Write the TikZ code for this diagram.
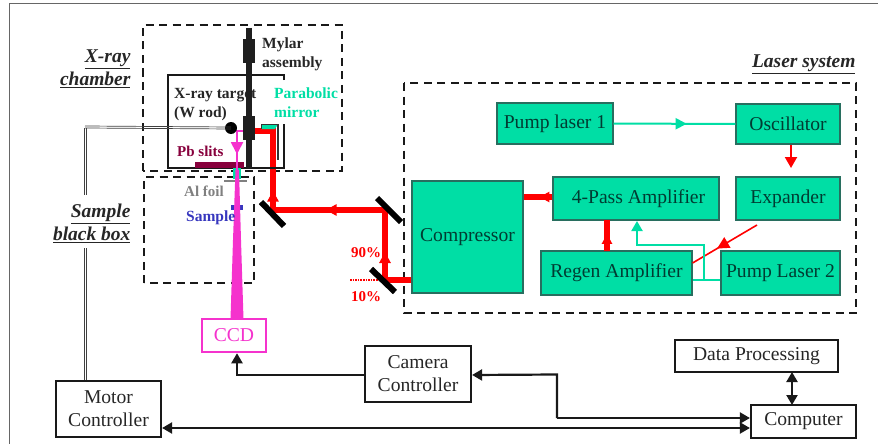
\documentclass[tikz,border=0pt]{standalone}
\usepackage{fontspec}
\setmainfont{Liberation Serif}
\usepackage{xcolor}
\usetikzlibrary{positioning,arrows.meta,decorations.markings}
\definecolor{claser}{RGB}{0,222,165}
\definecolor{cborder}{RGB}{40,110,95}
\definecolor{ctext}{RGB}{0,60,50}
\definecolor{cbeam}{RGB}{255,0,0}
\definecolor{cxray}{RGB}{245,50,205}
\definecolor{cslit}{RGB}{135,0,60}
\definecolor{csample}{RGB}{55,55,190}
\begin{document}
\begin{tikzpicture}[x=1pt,y=-1pt,
  laser/.style={draw=cborder,line width=1.1pt,fill=claser,text=ctext,inner sep=0pt,align=center,font=\fontsize{19.6}{23}\selectfont},
  ctrl/.style={draw=black!90,line width=2.2pt,inner sep=0pt,align=center,text=black!85,font=\fontsize{19.6}{23}\selectfont},
  dashbox/.style={draw=black!90,line width=2.1pt,dash pattern=on 8pt off 5.5pt},
  tag/.style={font=\fontsize{19.5}{23}\selectfont\bfseries\itshape,align=right,anchor=east,text=black!85},
  part/.style={font=\fontsize{15.5}{19}\selectfont\bfseries,align=left,anchor=west,inner sep=0pt},
  block/.style={fill=black!88,inner sep=0pt,minimum width=12pt},
  mirror/.style={line width=6pt,black},
  beam/.style={cbeam,line width=6pt},
  wire/.style={black!90,line width=2.2pt},
  wiretip/.style={wire,-{Triangle[length=10pt,width=11pt]}},
  bothtip/.style={wire,{Triangle[length=10pt,width=11pt]}-{Triangle[length=10pt,width=11pt]}},
  cable/.style={draw=black!75,line width=.7pt},
  pumpline/.style={claser,line width=2pt},
  midtip/.style 2 args={postaction={decorate,decoration={markings,mark=at position #1 with {\arrow{Triangle[length=#2pt,width=#2pt]}}}}},
]
\useasboundingbox (0,0) rectangle (878,444);
\draw[black!60,line width=1pt] (9,444) -- (9,4) -- (878,4);

% dashed enclosures
\draw[dashbox] (143,171) -- (143,25) -- (342,25) -- (342,171) -- cycle;
\draw[dashbox] (144,283) -- (144,177) -- (254,177) -- (254,283) -- cycle;
\draw[dashbox] (404,83) rectangle (856,313);
\node[tag] (tagchamber) at (134,69) {\underline{X-ray}\\\underline{chamber}};
\node[tag] (tagsample) at (134,223) {\underline{Sample}\\\underline{black box}};
\node[tag] (taglaser) at (859,64) {\underline{Laser system}};

% laser system
\node[laser,minimum width=116pt,minimum height=41pt] (pumpA) at (555,123.5) {Pump laser 1};
\node[laser,minimum width=104pt,minimum height=40pt] (osc) at (788,124) {Oscillator};
\node[laser,minimum width=104pt,minimum height=43pt] (expander) at (788,198.5) {Expander};
\node[laser,minimum width=166pt,minimum height=43pt] (fourpass) at (636,198.5) {\hspace{5pt}4-Pass Amplifier};
\node[laser,minimum width=151pt,minimum height=44pt] (regen) at (616.5,273) {Regen Amplifier};
\node[laser,minimum width=119pt,minimum height=44pt] (pumpB) at (780.5,273) {Pump Laser 2};
\node[laser,minimum width=111pt,minimum height=112pt] (comp) at (467.5,237) {Compressor};

\draw[pumpline,midtip={.6}{11}] (pumpA) -- (osc);
\draw[cbeam,line width=2pt,-{Triangle[length=11pt,width=12pt]}] (osc.south -| 791,0) -- (791,168);
\coordinate (expout) at (757,225);
\draw[cbeam,line width=1.6pt,midtip={.62}{12}] (expout) -- (regen.east |- 0,263);
\draw[beam,midtip={.45}{10}] (fourpass.west |- 0,197) -- (comp.east |- 0,197);
\draw[beam,midtip={.55}{10}] (607,251) -- (607,220);
\coordinate (pumpjoin) at (704,280);
\draw[pumpline] (pumpB.west |- pumpjoin) -- (regen.east |- pumpjoin);
\draw[pumpline,-{Triangle[length=10pt,width=11pt]}] (pumpjoin) -- (704,245) -- (637,245) -- (637,221);

% beam to the chamber
\coordinate (mirA) at (273,210);
\coordinate (mirB) at (385,210);
\coordinate (mirC) at (385,280);
\coordinate (mirP) at (273,131);
\node[block,minimum height=24pt] (rodup) at (249,51) {};
\node[block,minimum height=24pt] (rodlow) at (249,128) {};
\draw[beam] (comp.west |- mirC) -- (mirC);
\draw[beam,midtip={.4}{11}] (mirC) -- (mirB);
\draw[beam,midtip={.53}{11}] (mirB) -- (mirA);
\draw[beam,midtip={.2}{11}] (mirA) -- (mirP) -- (rodlow.east |- mirP);
\draw[cbeam,line width=1.6pt,densely dotted] (350,280) -- (mirC);
\draw[mirror] (261,202) -- (284,226);
\draw[mirror] (377,198) -- (401,222);
\draw[mirror] (371,269) -- (395,292);
\node[cbeam,font=\fontsize{15}{18}\selectfont\bfseries] (lblninety) at (366,253) {90\%};
\node[cbeam,font=\fontsize{15}{18}\selectfont\bfseries] (lblten) at (366,297) {10\%};

% chamber
\node[part,text=black!85] (lbltarget) at (174,104.5) {X-ray target\\(W rod)};
\draw[black!90,line width=2pt] (284,80) -- (284,75) -- (168,75) -- (168,168) -- (284,168) -- (284,124);
\draw[black!88,line width=5.5pt] (249,28) -- (249,168);
\node[block,minimum height=24pt] at (rodup) {};
\node[block,minimum height=24pt] at (rodlow) {};
\fill[claser] (261,124) -- (278,124) -- (275,129) -- (261,129) -- cycle;
\draw[black!80,line width=1pt] (261,129) -- (261,124) -- (278,124);
\draw[black!80,line width=1.2pt] (278,124) -- (278,160);
\fill[cslit] (195,162) rectangle (244,168);
\fill[claser] (233,168) rectangle (241,179);
\fill[black!50] (224,179.5) rectangle (247,182);
\fill[csample] (231,205) rectangle (243,210);

% x-ray path
\coordinate (xfocus) at (237,131);
\fill[cxray] (235.5,170) -- (239,170) -- (241,240) -- (243.5,319) -- (230.5,319) -- (233,240) -- cycle;
\draw[cxray,line width=1.8pt,midtip={.62}{12}] (rodlow.west |- xfocus) -- (xfocus) -- (237,172);
\node[draw=cxray,line width=2.5pt,fill=white,text=cxray,inner sep=0pt,minimum width=64pt,minimum height=33pt,font=\fontsize{19.6}{23}\selectfont] (ccd) at (234,335.5) {CCD};

\node[circle,fill=black,inner sep=0pt,minimum size=12pt] (target) at (231,128) {};
\node[part,text=black!85] (lblmylar) at (262,54) {Mylar\\assembly};
\node[part,text=claser] (lblmirror) at (274,102.5) {Parabolic\\mirror};
\node[part,text=cslit,font=\fontsize{15}{18}\selectfont\bfseries] (lblslits) at (177,151) {Pb slits};
\node[part,text=black!50,font=\fontsize{15}{18}\selectfont\bfseries] (lblfoil) at (184,191) {Al foil};
\node[part,text=csample] (lblsample) at (186,218) {Sample};

% controllers
\node[ctrl,minimum width=105pt,minimum height=56pt] (motor) at (108.5,409) {Motor\\Controller};
\node[ctrl,minimum width=106pt,minimum height=56pt] (camera) at (418,374) {Camera\\Controller};
\node[ctrl,minimum width=163pt,minimum height=32pt] (dataproc) at (756.5,356) {Data Processing};
\node[ctrl,minimum width=105pt,minimum height=33pt] (computer) at (803.5,421.5) {Computer};

\coordinate (cabletop) at (85,127);
\coordinate (cablegapA) at (85,195);
\coordinate (cablegapB) at (85,248);
\coordinate (cableend) at (85,380);
\foreach \d in {-1,1} {
  \draw[cable] ([yshift=\d pt]target.center) -- ([yshift=\d pt]cabletop);
  \draw[cable] ([shift={(\d pt,-1pt)}]cabletop) -- ([xshift=\d pt]cablegapA);
  \draw[cable] ([xshift=\d pt]cablegapB) -- ([xshift=\d pt]cableend);
}
\draw[wiretip] (camera.west |- 0,375) -- (237,375) -- (ccd.south -| 237,0);
\draw[wiretip] (557,418) -- (computer.west |- 0,418);
\draw[wiretip] (557,418) -- (557,374.5) -- (camera.east |- 0,375);
\draw[bothtip] (motor.east |- 0,428) -- (computer.west |- 0,428);
\draw[bothtip] (792,372) -- (792,405);
\end{tikzpicture}
\end{document}
